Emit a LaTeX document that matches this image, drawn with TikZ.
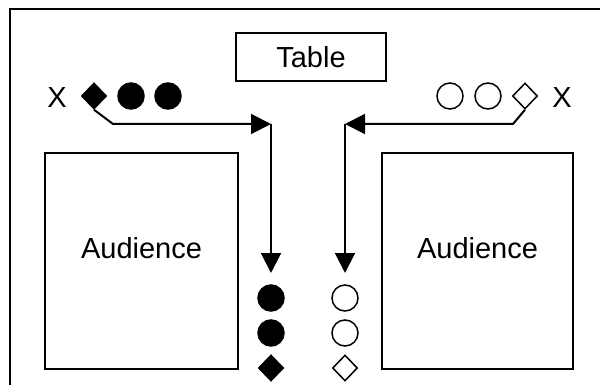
\documentclass[tikz,border=0pt]{standalone}
\usepackage{fontspec}
\setmainfont{Liberation Sans}
\usetikzlibrary{arrows.meta,shapes.geometric}
\begin{document}
\begin{tikzpicture}[x=1pt,y=-1pt,
  box/.style={draw,line width=1.5pt,inner sep=0pt},
  dot/.style={circle,draw,line width=1.5pt,minimum size=26pt,inner sep=0pt},
  gem/.style={diamond,draw,line width=1.5pt,minimum width=25pt,minimum height=26pt,inner sep=0pt},
  arr/.style={line width=2pt,-{Triangle[length=20pt,width=20pt]}},
  font=\fontsize{29}{34}\selectfont]
\useasboundingbox (0,0) rectangle (600,385);
\draw[line width=1.5pt] (10,385) -- (10,9) -- (600,9);

\node[box,minimum width=150pt,minimum height=48pt] (table) at (311,57) {Table};

\node[box,minimum width=193pt,minimum height=216pt] (laud) at (141.5,261) {};
\node (laudtxt) at (141.5,248) {Audience};
\node[box,minimum width=191pt,minimum height=216pt] (raud) at (477.5,261) {};
\node (raudtxt) at (477.5,248) {Audience};

\node (lx) at (57,98) {X};
\node[gem,fill=black] (ld) at (94,96) {};
\node[dot,fill=black] (lp1) at (131,96) {};
\node[dot,fill=black] (lp2) at (168,96) {};

\node[dot] (rp1) at (450,96) {};
\node[dot] (rp2) at (488,96) {};
\node[gem] (rd) at (525,96) {};
\node (rx) at (562,98) {X};

\node[dot,fill=black] (lq1) at (271,298) {};
\node[dot,fill=black] (lq2) at (271,333) {};
\node[gem,fill=black] (lq3) at (271,368) {};
\node[dot] (rq1) at (345,298) {};
\node[dot] (rq2) at (345,333) {};
\node[gem] (rq3) at (345,368) {};

\coordinate (lb) at (113,124);
\coordinate (lt) at (271,124);
\coordinate (le) at (271,273);
\coordinate (rb) at (513,124);
\coordinate (rt) at (345,124);
\coordinate (re) at (345,273);

\draw[arr] (ld.south) -- (lb) -- (lt);
\draw[arr] (lt) -- (le);
\draw[arr] (rd.south) -- (rb) -- (rt);
\draw[arr] (rt) -- (re);
\end{tikzpicture}
\end{document}
